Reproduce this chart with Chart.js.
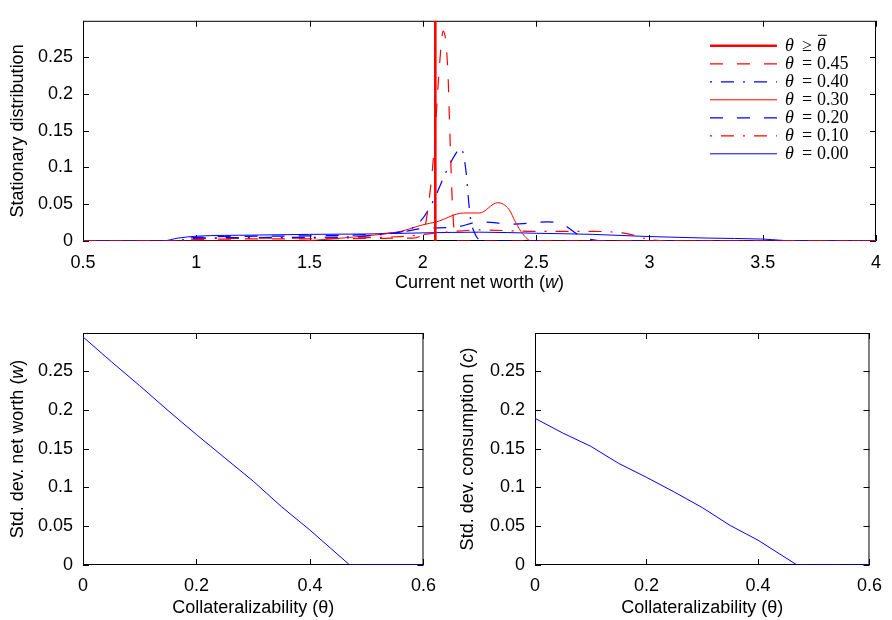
<!DOCTYPE html>
<html>
<head>
<meta charset="utf-8">
<script src="https://cdn.jsdelivr.net/npm/chart.js@4.4.1/dist/chart.umd.min.js"></script>
<style>
    html, body { margin: 0; padding: 0; background: #fff; }
    #page { position: relative; width: 892px; height: 620px; }
    .panel { position: absolute; }
    #topPanel { left: 0; top: 0; width: 892px; height: 300px; }
    #leftPanel { left: 0; top: 300px; width: 446px; height: 320px; }
    #rightPanel { left: 446px; top: 300px; width: 446px; height: 320px; }
</style>
</head>
<body>
<div id="page">
    <div class="panel" id="topPanel"><canvas id="distChart"></canvas></div>
    <div class="panel" id="leftPanel"><canvas id="wealthChart"></canvas></div>
    <div class="panel" id="rightPanel"><canvas id="consChart"></canvas></div>
</div>
<script>
// Stationary distribution of net worth, one curve per collateralizability
const wBar = [2.055, 2.055];
const dBar = [0, 1];

const w45 = [0.5, 0.9, 1.0, 1.5, 1.95, 2.0, 2.03, 2.05, 2.07, 2.09, 2.11, 2.12, 2.13, 2.14, 2.16, 4.0];
const d45 = [0, 0, 0.002, 0.003, 0.004, 0.01, 0.062, 0.126, 0.224, 0.285, 0.233, 0.139, 0.053, 0.01, 0, 0];

const w40 = [0.5, 0.9, 1.0, 1.5, 1.9, 1.99, 2.05, 2.10, 2.14, 2.168, 2.19, 2.20, 2.21, 2.23, 2.26, 4.0];
const d40 = [0, 0, 0.004, 0.005, 0.012, 0.027, 0.057, 0.092, 0.116, 0.126, 0.096, 0.061, 0.031, 0.01, 0, 0];

const w30 = [0.5, 1.45, 1.6, 1.75, 1.9, 2.0, 2.06, 2.18, 2.25, 2.33, 2.38, 2.41, 2.44, 2.48, 4.0];
const d30 = [0, 0, 0.003, 0.007, 0.013, 0.022, 0.026, 0.038, 0.038, 0.052, 0.043, 0.025, 0.01, 0, 0];

const w20 = [0.5, 0.9, 1.0, 1.5, 1.9, 2.0, 2.15, 2.25, 2.4, 2.55, 2.62, 2.7, 2.8, 4.0];
const d20 = [0, 0, 0.005, 0.007, 0.012, 0.017, 0.019, 0.026, 0.023, 0.026, 0.022, 0.006, 0, 0];

const w10 = [0.5, 0.9, 1.0, 1.5, 1.9, 2.1, 2.25, 2.5, 2.75, 2.9, 3.0, 3.1, 4.0];
const d10 = [0, 0, 0.003, 0.004, 0.006, 0.012, 0.015, 0.013, 0.013, 0.01, 0.002, 0, 0];

const w00 = [0.5, 0.85, 0.92, 1.0, 1.25, 1.5, 1.75, 2.0, 2.25, 2.5, 2.75, 3.0, 3.25, 3.5, 3.65, 4.0];
const d00 = [0, 0, 0.004, 0.0065, 0.008, 0.009, 0.0095, 0.011, 0.012, 0.0105, 0.009, 0.006, 0.004, 0.0026, 0, 0];

// Volatility against collateralizability
const theta = [0, 0.05, 0.1, 0.15, 0.2, 0.25, 0.3, 0.35, 0.4, 0.47, 0.5, 0.55, 0.6];
const sdWealth = [0.294, 0.262, 0.231, 0.199, 0.168, 0.138, 0.108, 0.075, 0.045, 0, 0, 0, 0];
const sdCons = [0.189, 0.17, 0.153, 0.131, 0.113, 0.094, 0.074, 0.051, 0.032, 0, 0, 0, 0];

const wTicks = { min: 0.5, max: 4, step: 0.5 };
const thetaTicks = { min: 0, max: 0.6, step: 0.2 };
const yTicks = { min: 0, max: 0.299, step: 0.05 };

const SANS = '"Liberation Sans", Arial, Helvetica, sans-serif';
const SERIF = '"Liberation Serif", "Times New Roman", serif';
const RED = '#ff0000';
const BLUE = '#0000ff';
const DASH = [13, 14];
const DASHDOT = [2, 9, 13, 9];

Chart.defaults.font.family = SANS;
Chart.defaults.font.size = 18;
Chart.defaults.color = '#000';

const pts = (xs, ys) => xs.map((x, i) => ({ x: x, y: ys[i] }));
const fmt = v => String(Math.round(v * 1000) / 1000);

// draw a string made of upright / italic pieces, centred on (cx, cy)
function drawParts(ctx, parts, cx, cy, size, family) {
    let total = 0;
    parts.forEach(p => {
        ctx.font = (p.i ? 'italic ' : '') + size + 'px ' + family;
        p.w = ctx.measureText(p.t).width;
        total += p.w;
    });
    let x = cx - total / 2;
    ctx.textAlign = 'left';
    ctx.textBaseline = 'middle';
    parts.forEach(p => {
        ctx.font = (p.i ? 'italic ' : '') + size + 'px ' + family;
        ctx.fillText(p.t, x, cy);
        x += p.w;
    });
}

// Box and inward ticks go under the curves, titles and legend on top
const framePlugin = {
    id: 'frame',
    beforeDatasetsDraw(chart) {
        const ctx = chart.ctx;
        const a = chart.chartArea;
        const xs = chart.scales.x, ys = chart.scales.y;
        ctx.save();
        ctx.strokeStyle = '#000';
        ctx.lineWidth = 1;
        ctx.strokeRect(a.left + 0.5, a.top + 0.5, a.right - a.left - 1, a.bottom - a.top - 1);
        const tl = 6;
        ctx.beginPath();
        xs.ticks.forEach(t => {
            const px = Math.round(xs.getPixelForValue(t.value)) + 0.5;
            ctx.moveTo(px, a.bottom); ctx.lineTo(px, a.bottom - tl);
            ctx.moveTo(px, a.top); ctx.lineTo(px, a.top + tl);
        });
        ys.ticks.forEach(t => {
            const py = Math.round(ys.getPixelForValue(t.value)) + 0.5;
            ctx.moveTo(a.left, py); ctx.lineTo(a.left + tl, py);
            ctx.moveTo(a.right, py); ctx.lineTo(a.right - tl, py);
        });
        ctx.stroke();
        ctx.restore();
    },
    afterDatasetsDraw(chart, args, opts) {
        const ctx = chart.ctx;
        const a = chart.chartArea;
        ctx.save();
        ctx.fillStyle = '#000';
        drawParts(ctx, opts.xTitle, (a.left + a.right) / 2, a.bottom + opts.xTitleGap, 18, SANS);
        ctx.save();
        ctx.translate(opts.yTitleX, (a.top + a.bottom) / 2);
        ctx.rotate(-Math.PI / 2);
        drawParts(ctx, opts.yTitle, 0, 0, 18, SANS);
        ctx.restore();

        if (opts.legend) {
            const x0 = a.right - 166, x1 = a.right - 99, tx = a.right - 91;
            chart.data.datasets.forEach((ds, i) => {
                const y = a.top + 25 + i * 18;
                ctx.beginPath();
                ctx.strokeStyle = ds.borderColor;
                ctx.lineWidth = ds.borderWidth;
                ctx.setLineDash(ds.borderDash || []);
                ctx.moveTo(x0, y); ctx.lineTo(x1, y);
                ctx.stroke();
                ctx.setLineDash([]);
                const tok = ds.label.split(' ');
                ctx.textBaseline = 'middle';
                ctx.font = 'italic 18px ' + SERIF;
                ctx.textAlign = 'left';
                ctx.fillText(tok[0], tx, y);
                ctx.font = '18px ' + SERIF;
                ctx.textAlign = 'center';
                ctx.fillText(tok[1], tx + 22, y);
                ctx.textAlign = 'left';
                if (tok[2] === 'θbar') {
                    // theta with an overbar
                    ctx.font = 'italic 18px ' + SERIF;
                    ctx.fillText('θ', tx + 32, y);
                    const tw = ctx.measureText('θ').width;
                    ctx.beginPath();
                    ctx.strokeStyle = '#000';
                    ctx.lineWidth = 1;
                    ctx.moveTo(tx + 33, y - 10.5);
                    ctx.lineTo(tx + 33 + tw, y - 10.5);
                    ctx.stroke();
                } else {
                    ctx.fillText(tok[2], tx + 32, y);
                }
            });
        }
        ctx.restore();
    }
};

function lineSet(label, xs, ys, color, dash, width, smooth) {
    return {
        label: label,
        data: pts(xs, ys),
        borderColor: color,
        borderDash: dash,
        borderWidth: width,
        pointRadius: 0,
        fill: false,
        cubicInterpolationMode: smooth ? 'monotone' : 'default',
        tension: 0
    };
}

function axes(xt, yAxisWidth, xAxisHeight, xPad) {
    return {
        x: {
            type: 'linear',
            min: xt.min,
            max: xt.max,
            grid: { display: false, drawTicks: false },
            border: { display: false },
            ticks: { stepSize: xt.step, padding: xPad, maxRotation: 0, callback: fmt },
            afterFit(scale) { scale.height = xAxisHeight; }
        },
        y: {
            min: yTicks.min,
            max: yTicks.max,
            grid: { display: false, drawTicks: false },
            border: { display: false },
            ticks: { stepSize: yTicks.step, padding: 10, includeBounds: false, callback: fmt },
            afterFit(scale) { scale.width = yAxisWidth; }
        }
    };
}

const baseOptions = {
    responsive: true,
    maintainAspectRatio: false,
    animation: false,
    devicePixelRatio: 1,
    events: []
};

new Chart(document.getElementById('distChart'), {
    type: 'line',
    data: {
        datasets: [
            lineSet('θ ≥ θbar', wBar, dBar, RED, [], 2.6, false),
            lineSet('θ = 0.45', w45, d45, RED, DASH, 1.2, true),
            lineSet('θ = 0.40', w40, d40, BLUE, DASHDOT, 1.2, true),
            lineSet('θ = 0.30', w30, d30, RED, [], 1, true),
            lineSet('θ = 0.20', w20, d20, BLUE, DASH, 1.2, true),
            lineSet('θ = 0.10', w10, d10, RED, DASHDOT, 1.2, true),
            lineSet('θ = 0.00', w00, d00, BLUE, [], 1, true)
        ]
    },
    options: Object.assign({}, baseOptions, {
        layout: { padding: { top: 8, right: 16, left: 0, bottom: 0 } },
        plugins: {
            legend: { display: false },
            tooltip: { enabled: false },
            frame: {
                legend: true,
                xTitle: [{ t: 'Current net worth (' }, { t: 'w', i: true }, { t: ')' }],
                xTitleGap: 42,
                yTitle: [{ t: 'Stationary distribution' }],
                yTitleX: 18
            }
        },
        scales: axes(wTicks, 83, 59, 11)
    }),
    plugins: [framePlugin]
});

new Chart(document.getElementById('wealthChart'), {
    type: 'line',
    data: {
        datasets: [lineSet('sd(w)', theta, sdWealth, BLUE, [], 1, false)]
    },
    options: Object.assign({}, baseOptions, {
        layout: { padding: { top: 33, right: 19, left: 0, bottom: 0 } },
        plugins: {
            legend: { display: false },
            tooltip: { enabled: false },
            frame: {
                xTitle: [{ t: 'Collateralizability (θ)' }],
                xTitleGap: 43,
                yTitle: [{ t: 'Std. dev. net worth (' }, { t: 'w', i: true }, { t: ')' }],
                yTitleX: 18
            }
        },
        scales: axes(thetaTicks, 83, 55, 10)
    }),
    plugins: [framePlugin]
});

new Chart(document.getElementById('consChart'), {
    type: 'line',
    data: {
        datasets: [lineSet('sd(c)', theta, sdCons, BLUE, [], 1, false)]
    },
    options: Object.assign({}, baseOptions, {
        layout: { padding: { top: 33, right: 14, left: 0, bottom: 0 } },
        plugins: {
            legend: { display: false },
            tooltip: { enabled: false },
            frame: {
                xTitle: [{ t: 'Collateralizability (θ)' }],
                xTitleGap: 43,
                yTitle: [{ t: 'Std. dev. consumption (' }, { t: 'c', i: true }, { t: ')' }],
                yTitleX: 22
            }
        },
        scales: axes(thetaTicks, 89, 55, 10)
    }),
    plugins: [framePlugin]
});
</script>
</body>
</html>
